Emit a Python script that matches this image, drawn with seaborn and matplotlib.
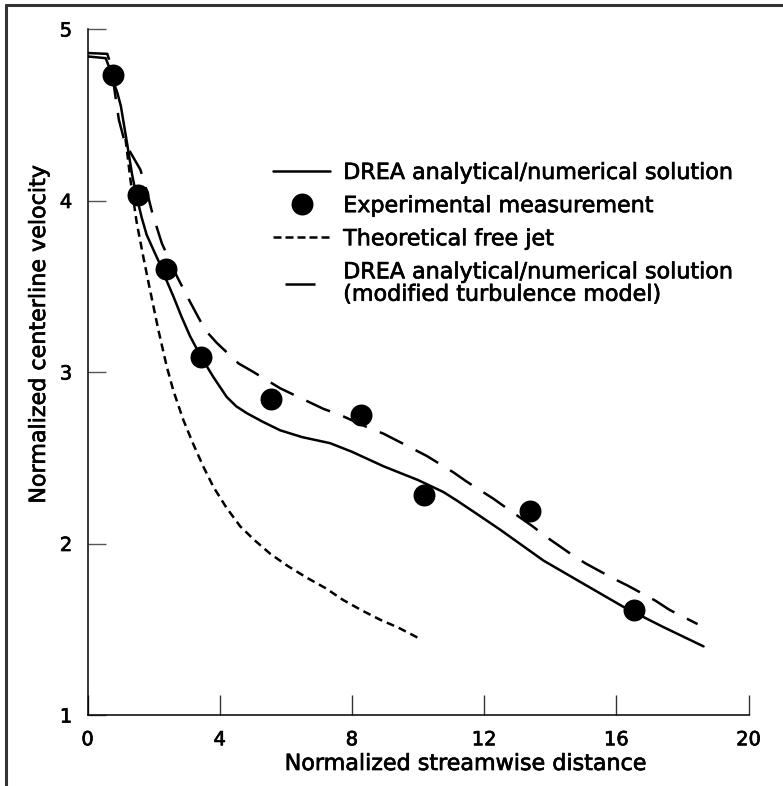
import matplotlib
matplotlib.use("Agg")
import matplotlib.pyplot as plt
import matplotlib.patheffects as pe
from matplotlib.lines import Line2D
import seaborn as sns
import pandas as pd

# ---- data ----
drea_x = [0, 0.55, 0.65, 0.77, 0.9, 1.01, 1.2, 1.35, 1.49, 1.64, 1.79, 2.0, 2.19, 2.4, 2.6,
          2.85, 3.1, 3.43, 3.81, 4.21, 4.5, 4.82, 5.3, 5.83, 6.5, 7.34, 8.0, 8.96, 10.0,
          10.77, 11.18, 11.8, 12.49, 13.8, 15.0, 16.22, 17.4, 18.64]
drea_y = [4.84, 4.83, 4.78, 4.70, 4.63, 4.55, 4.33, 4.15, 4.02, 3.90, 3.80, 3.71, 3.63, 3.53,
          3.44, 3.32, 3.21, 3.09, 2.97, 2.855, 2.80, 2.76, 2.71, 2.66, 2.62, 2.585, 2.535,
          2.45, 2.37, 2.30, 2.25, 2.17, 2.08, 1.90, 1.766, 1.63, 1.515, 1.40]

meas_x = [0.76, 1.54, 2.38, 3.43, 5.55, 8.28, 10.17, 13.40, 16.55]
meas_y = [4.73, 4.03, 3.60, 3.09, 2.84, 2.75, 2.28, 2.19, 1.61]

jet_x = [1.15, 1.3, 1.49, 1.7, 1.89, 2.15, 2.40, 2.60, 2.90, 3.20, 3.50, 3.81, 4.20, 4.62,
         5.05, 5.53, 6.05, 6.64, 7.20, 7.74, 8.30, 8.86, 9.40, 10.0]
jet_y = [4.36, 4.12, 3.87, 3.66, 3.48, 3.24, 3.03, 2.89, 2.72, 2.58, 2.45, 2.33, 2.21, 2.10,
         2.02, 1.94, 1.87, 1.80, 1.74, 1.67, 1.61, 1.555, 1.51, 1.45]

mod_x = [0, 0.6, 0.72, 0.85, 0.95, 1.1, 1.3, 1.6, 1.8, 1.97, 2.25, 2.7, 3.10, 3.56, 3.91,
         4.57, 5.02, 5.83, 6.43, 7.14, 7.64, 8.50, 8.96, 9.82, 10.27, 11.07, 11.48, 12.29,
         12.69, 13.47, 13.87, 14.64, 15.06, 15.90, 16.35, 17.18, 17.62, 18.46]
mod_y = [4.86, 4.855, 4.78, 4.60, 4.47, 4.36, 4.28, 4.18, 4.05, 3.92, 3.75, 3.56, 3.41, 3.245,
         3.17, 3.05, 3.00, 2.905, 2.85, 2.785, 2.75, 2.675, 2.64, 2.555, 2.51, 2.415, 2.36,
         2.26, 2.205, 2.10, 2.04, 1.937, 1.885, 1.797, 1.754, 1.667, 1.612, 1.53]

x_ticks = [0, 4, 8, 12, 16, 20]
y_ticks = [1, 2, 3, 4, 5]

labels = ["DREA analytical/numerical solution",
          "Experimental measurement",
          "Theoretical free jet",
          "DREA analytical/numerical solution\n(modified turbulence model)"]

# ---- style ----
sns.set_style("ticks")
plt.rcParams["font.family"] = ["DejaVu Sans"]
plt.rcParams["text.color"] = "black"
plt.rcParams["axes.labelcolor"] = "black"
plt.rcParams["xtick.color"] = "black"
plt.rcParams["ytick.color"] = "black"

W, H = 783, 786
fig = plt.figure(figsize=(W / 100, H / 100), dpi=100)
ax = fig.add_axes([87.5 / W, (H - 715) / H, (748.5 - 87.5) / W, (715 - 29) / H])

LW = 1.8
df_drea = pd.DataFrame({"x": drea_x, "y": drea_y})
df_jet = pd.DataFrame({"x": jet_x, "y": jet_y})
df_mod = pd.DataFrame({"x": mod_x, "y": mod_y})
df_meas = pd.DataFrame({"x": meas_x, "y": meas_y})

sns.lineplot(data=df_drea, x="x", y="y", ax=ax, color="black", lw=LW,
             estimator=None, sort=False)
sns.lineplot(data=df_jet, x="x", y="y", ax=ax, color="black", lw=LW,
             estimator=None, sort=False)
ax.lines[-1].set_linestyle((0, (3.2, 2.0)))
sns.lineplot(data=df_mod, x="x", y="y", ax=ax, color="black", lw=LW,
             estimator=None, sort=False)
ax.lines[-1].set_linestyle((0, (10.4, 5.6)))
sns.scatterplot(data=df_meas, x="x", y="y", ax=ax, color="black", s=250,
                edgecolor="black", linewidth=0, zorder=5)

ax.set_xlim(0, 20)
ax.set_ylim(1, 5)
ax.set_xticks(x_ticks)
ax.set_yticks(y_ticks)
ax.set_xticklabels([str(v) for v in x_ticks])
ax.set_yticklabels([str(v) for v in y_ticks])

for s in ["top", "right"]:
    ax.spines[s].set_visible(False)
for s in ["left", "bottom"]:
    ax.spines[s].set_color("black")
    ax.spines[s].set_linewidth(1.1)

ax.tick_params(axis="x", direction="in", length=14.4, width=1.0, color="#333333",
               labelcolor="black", labelsize=14, pad=11)
ax.tick_params(axis="y", direction="in", length=12.6, width=1.0, color="#555555",
               labelcolor="black", labelsize=14, pad=11)

ax.set_xlabel("Normalized streamwise distance", fontsize=16, color="black")
ax.set_ylabel("Normalized centerline velocity", fontsize=16, color="black")
ax.xaxis.set_label_coords((466 - 87.5) / 661, (715 - 754) / 686)
ax.yaxis.set_label_coords((49 - 87.5) / 661, (715 - 334) / 686)

# ---- legend ----
h_solid = Line2D([], [], color="black", lw=LW)
h_meas = Line2D([], [], color="black", marker="o", markersize=15.8, lw=0,
                markeredgewidth=0)
h_jet = Line2D([], [], color="black", lw=LW, linestyle=(0, (3.2, 1.6)))
h_mod = Line2D([], [], color="black", lw=LW, linestyle=(23.2, (12, 16)))
leg = ax.legend([h_solid, h_meas, h_jet, h_mod], labels,
                loc="upper left", bbox_to_anchor=((273 - 87.5) / 661, (715 - 163) / 686),
                frameon=False, fontsize=16, borderpad=0, borderaxespad=0,
                handlelength=2.57, handletextpad=0.59, labelspacing=0.59)
for t in leg.get_texts():
    t.set_color("black")
leg.get_texts()[3].set_linespacing(1.15)

# slightly heavier text, like the medium-weight face of the original
stroke = [pe.withStroke(linewidth=0.5, foreground="black")]
for t in (ax.get_xticklabels() + ax.get_yticklabels() + leg.get_texts()
          + [ax.xaxis.label, ax.yaxis.label]):
    t.set_path_effects(stroke)

# ---- outer frame (top and left edges) ----
fig.add_artist(Line2D([6 / W, 6 / W], [-0.01, 1 - 4.5 / H], transform=fig.transFigure,
                      color="#333333", lw=2.2))
fig.add_artist(Line2D([6 / W, 1.01], [1 - 4.5 / H, 1 - 4.5 / H], transform=fig.transFigure,
                      color="#333333", lw=2.2))

fig.savefig("out.png", dpi=100)
